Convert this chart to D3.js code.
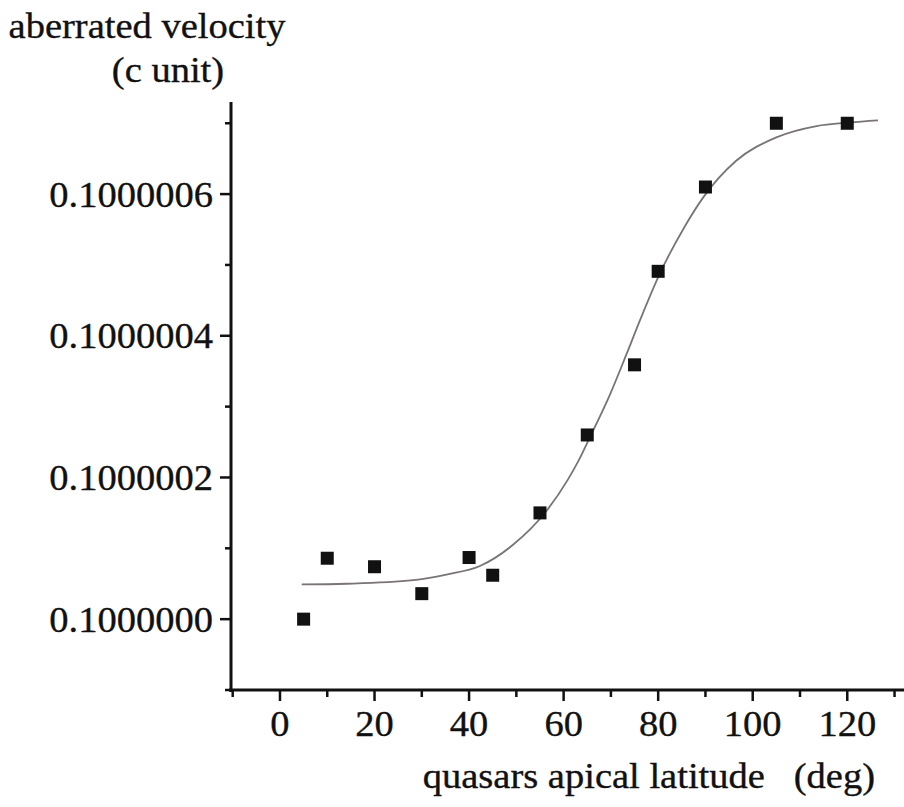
<!DOCTYPE html>
<html><head><meta charset="utf-8">
<script src="https://cdn.jsdelivr.net/npm/d3@7"></script>
<style>body{margin:0;background:#fff}svg{display:block}text{font-family:"Liberation Serif","Times New Roman",serif;fill:#111;stroke:#111;stroke-width:0.35px}</style>
</head><body><svg id="c" width="904" height="807"></svg>
<script>
// values in units of 1e-7 above 0.1
const latitude = [5, 10, 20, 30, 40, 45, 55, 65, 75, 80, 90, 105, 120];
const velocity = [0.00, 0.86, 0.74, 0.36, 0.87, 0.62, 1.50, 2.60, 3.59, 4.91, 6.10, 7.00, 7.00];
const fitX = [4.6, 14.1, 28.2, 35.2, 42.3, 49.3, 56.4, 60.9, 63.1, 65.5, 69.8, 73.3, 76.1, 80.3, 85.6, 89.5, 96.5, 105, 113.5, 120.5, 126.5];
const fitY = [0.49, 0.50, 0.55, 0.63, 0.75, 1.05, 1.53, 1.97, 2.23, 2.56, 3.17, 3.74, 4.21, 4.87, 5.54, 5.95, 6.47, 6.80, 6.96, 7.01, 7.04];
const xTicks = [0, 20, 40, 60, 80, 100, 120];
const yTicks = [0, 2, 4, 6];
const yTickLabels = ["0.1000000", "0.1000002", "0.1000004", "0.1000006"];

const svg = d3.select("#c");
const x = d3.scaleLinear().domain([-10, 132]).range([232.7, 904]);
const y = d3.scaleLinear().domain([-1, 7.3]).range([690, 102]);
const fs = 36, sx = 1.07;

function label(sel, tx, ty, anchor, txt) {
  sel.append("text").attr("transform", `translate(${tx},${ty}) scale(${sx},1)`)
    .attr("text-anchor", anchor).attr("font-size", fs).style("white-space", "pre").text(txt);
}

// x axis
const xa = svg.append("g");
xa.append("line").attr("x1", 229).attr("x2", 904).attr("y1", 690).attr("y2", 690).attr("stroke", "#111").attr("stroke-width", 3);
xa.selectAll(".mn").data(d3.range(-10, 131, 10)).join("line")
  .attr("x1", d => x(d)).attr("x2", d => x(d)).attr("y1", 690)
  .attr("y2", d => xTicks.includes(d) ? 701 : 697).attr("stroke", "#111").attr("stroke-width", 2.5);
xTicks.forEach(d => label(xa, x(d), 736, "middle", String(d)));

// y axis
const ya = svg.append("g");
ya.append("line").attr("x1", 231).attr("x2", 231).attr("y1", y(7.3)).attr("y2", 692).attr("stroke", "#111").attr("stroke-width", 3);
ya.selectAll(".mn").data(d3.range(-1, 8, 1)).join("line")
  .attr("y1", d => y(d)).attr("y2", d => y(d)).attr("x1", 231)
  .attr("x2", d => yTicks.includes(d) ? 220 : 225).attr("stroke", "#111").attr("stroke-width", 2.5);
yTicks.forEach((d, i) => label(ya, 213, y(d) + 12.5, "end", yTickLabels[i]));

// fit curve
const pts = fitX.map((v, i) => [v, fitY[i]]);
svg.append("path").datum(pts)
  .attr("d", d3.line().x(d => x(d[0])).y(d => y(d[1])).curve(d3.curveMonotoneX))
  .attr("fill", "none").attr("stroke", "#7a7474").attr("stroke-width", 1.8);

// markers
const s = 13;
svg.selectAll(".pt").data(latitude).join("rect")
  .attr("x", d => x(d) - s / 2).attr("y", (d, i) => y(velocity[i]) - s / 2)
  .attr("width", s).attr("height", s).attr("fill", "#111");

// titles
label(svg, 147, 38, "middle", "aberrated velocity");
label(svg, 168, 82, "middle", "(c unit)");
label(svg, 875, 788, "end", "quasars apical latitude   (deg)");
</script></body></html>
